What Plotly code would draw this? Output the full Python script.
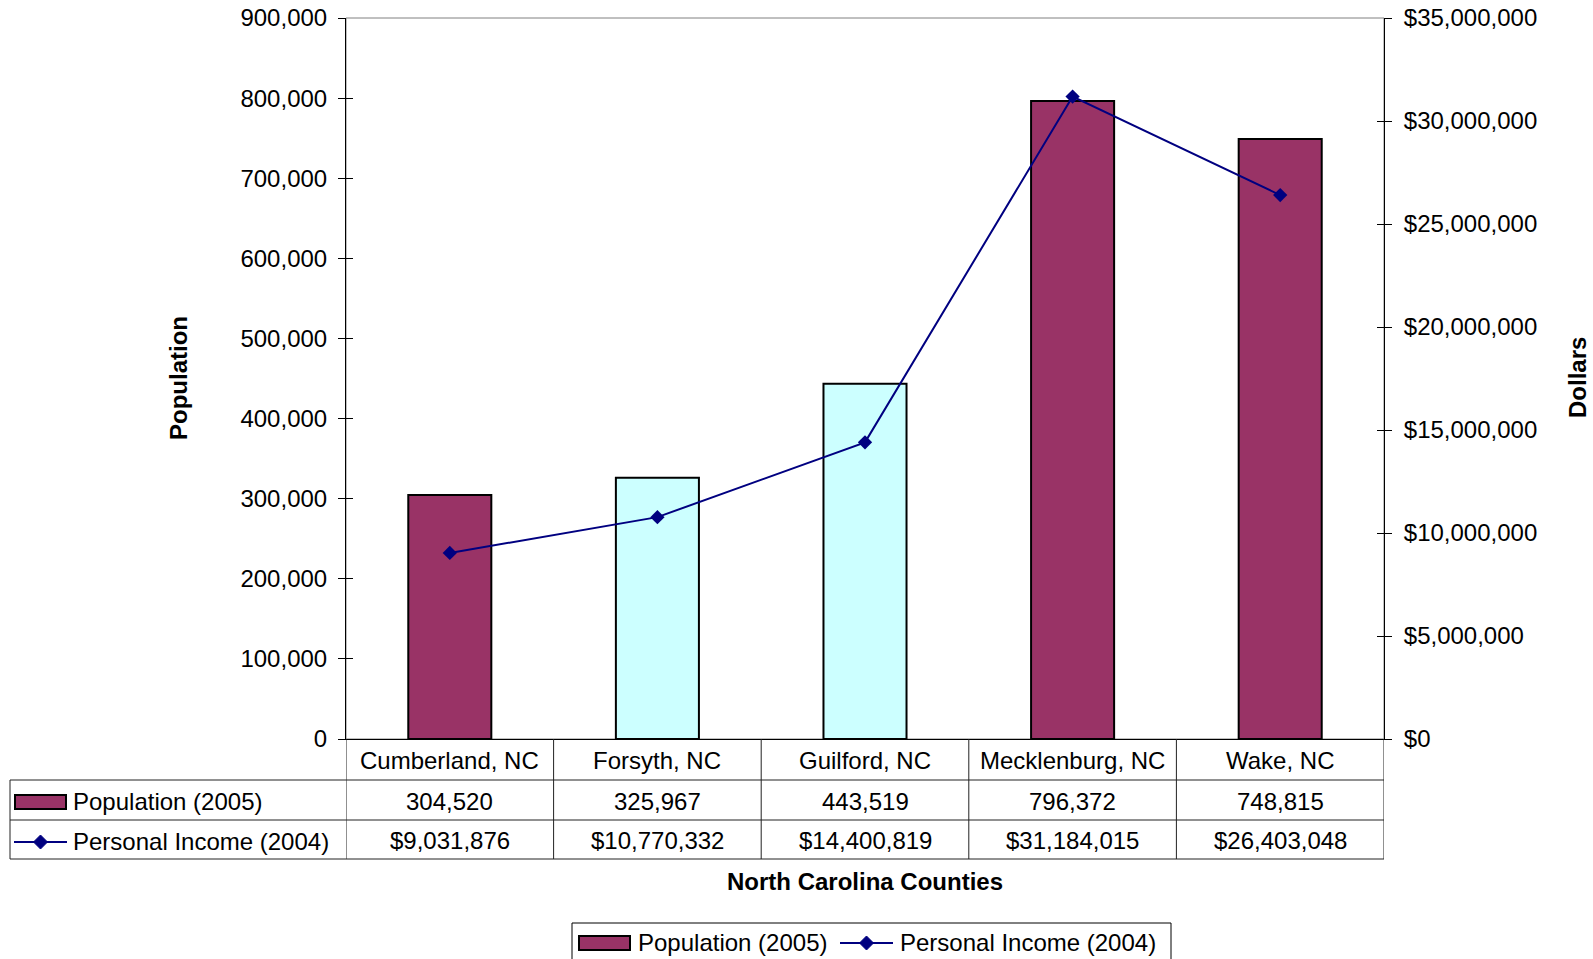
import plotly.graph_objects as go

# ---------------- data ----------------
counties = ["Cumberland, NC", "Forsyth, NC", "Guilford, NC", "Mecklenburg, NC", "Wake, NC"]
population_2005 = [304520, 325967, 443519, 796372, 748815]
income_2004 = [9031876, 10770332, 14400819, 31184015, 26403048]
pop_ticks = [0, 100000, 200000, 300000, 400000, 500000, 600000, 700000, 800000, 900000]
income_ticks = [0, 5000000, 10000000, 15000000, 20000000, 25000000, 30000000, 35000000]
series_names = ["Population (2005)", "Personal Income (2004)"]
axis_titles = {"x": "North Carolina Counties", "y": "Population", "y2": "Dollars"}

# ---------------- styles ----------------
W, H = 1593, 959
MAROON = "#993366"
CYAN = "#CCFFFF"
NAVY = "#000080"
bar_colors = [MAROON, CYAN, CYAN, MAROON, MAROON]
FONT = "Liberation Sans, Arial, sans-serif"
FS = 24

L, R, T, B = 346, 1384, 18, 739


def px(x):
    return x / W


def py(y):
    return 1 - y / H


idx = list(range(len(counties)))

fig = go.Figure()
fig.add_trace(go.Bar(
    x=idx, y=population_2005, width=0.4,
    marker=dict(color=bar_colors, line=dict(color="black", width=2)),
    name=series_names[0], showlegend=False, hoverinfo="skip",
))
fig.add_trace(go.Scatter(
    x=idx, y=income_2004, yaxis="y2", mode="lines+markers",
    line=dict(color=NAVY, width=2),
    marker=dict(symbol="diamond", size=11, color=NAVY),
    name=series_names[1], showlegend=False, hoverinfo="skip",
))
# invisible helpers for inside tick marks
fig.add_trace(go.Scatter(x=[0], y=[0], yaxis="y3", mode="markers",
                         marker=dict(opacity=0), showlegend=False, hoverinfo="skip"))
fig.add_trace(go.Scatter(x=[0], y=[0], yaxis="y4", mode="markers",
                         marker=dict(opacity=0), showlegend=False, hoverinfo="skip"))

xd = [px(L), px(R)]
yd = [py(B), py(T)]

fig.update_layout(
    width=W, height=H,
    margin=dict(l=0, r=0, t=0, b=0, autoexpand=False),
    paper_bgcolor="white", plot_bgcolor="white",
    font=dict(family=FONT, size=FS, color="black"),
    xaxis=dict(domain=xd, range=[-0.5, len(counties) - 0.5], showticklabels=False,
               ticks="", showgrid=False, zeroline=False, automargin=False,
               showline=True, linecolor="black", linewidth=1),
    yaxis=dict(domain=yd, range=[0, pop_ticks[-1]], tickvals=pop_ticks,
               ticktext=[f"{v:,}" for v in pop_ticks], automargin=False,
               ticks="outside", ticklen=7, tickcolor="black", ticklabelstandoff=6,
               showgrid=False, zeroline=False, showline=True, linecolor="black", linewidth=1),
    yaxis2=dict(overlaying="y", side="right", anchor="x", range=[0, income_ticks[-1]],
                tickvals=income_ticks, ticktext=[f"${v:,}" for v in income_ticks],
                automargin=False,
                ticks="outside", ticklen=7, tickcolor="black", ticklabelstandoff=7,
                showgrid=False, zeroline=False, showline=True, linecolor="black", linewidth=1),
    yaxis3=dict(overlaying="y", side="left", anchor="x", range=[0, pop_ticks[-1]],
                tickvals=pop_ticks, showticklabels=False, ticks="inside", ticklen=7,
                automargin=False,
                tickcolor="black", showgrid=False, zeroline=False, showline=False),
    yaxis4=dict(overlaying="y", side="right", anchor="x", range=[0, income_ticks[-1]],
                tickvals=income_ticks, showticklabels=False, ticks="inside", ticklen=7,
                automargin=False,
                tickcolor="black", showgrid=False, zeroline=False, showline=False),
)

shapes = []
ann = []
LINE = dict(color="#222222", width=1)

# plot area border (gray)
shapes.append(dict(type="rect", xref="paper", yref="paper", x0=px(L), x1=px(R),
                   y0=py(B), y1=py(T), line=dict(color="#808080", width=1), layer="below"))

# ---------------- data table ----------------
ROW_TOP, ROW1, ROW2, ROW3 = B, 780, 820, 859
TBL_LEFT = 10
for yy in (ROW1, ROW2, ROW3):
    shapes.append(dict(type="line", xref="paper", yref="paper", x0=px(TBL_LEFT), x1=px(R),
                       y0=py(yy), y1=py(yy), line=LINE))
for k in range(len(counties) + 1):
    shapes.append(dict(type="line", xref="x", yref="paper", x0=k - 0.5, x1=k - 0.5,
                       y0=py(ROW_TOP), y1=py(ROW3), line=LINE))
shapes.append(dict(type="line", xref="paper", yref="paper", x0=px(TBL_LEFT), x1=px(TBL_LEFT),
                   y0=py(ROW1), y1=py(ROW3), line=LINE))

for i, c in enumerate(counties):
    ann.append(dict(x=i, xref="x", y=py((ROW_TOP + ROW1) / 2 + 1), yref="paper", text=c,
                    showarrow=False, xanchor="center", yanchor="middle"))
    ann.append(dict(x=i, xref="x", y=py((ROW1 + ROW2) / 2 + 1), yref="paper",
                    text=f"{population_2005[i]:,}", showarrow=False,
                    xanchor="center", yanchor="middle"))
    ann.append(dict(x=i, xref="x", y=py((ROW2 + ROW3) / 2 + 1), yref="paper",
                    text=f"${income_2004[i]:,}", showarrow=False,
                    xanchor="center", yanchor="middle"))


def bar_key(x0, yc):
    shapes.append(dict(type="rect", xref="paper", yref="paper", x0=px(x0), x1=px(x0 + 51),
                       y0=py(yc + 7), y1=py(yc - 7), fillcolor=MAROON,
                       line=dict(color="black", width=2)))


def line_key(x0, yc):
    shapes.append(dict(type="line", xref="paper", yref="paper", x0=px(x0), x1=px(x0 + 53),
                       y0=py(yc), y1=py(yc), line=dict(color=NAVY, width=2)))
    cx = x0 + 26.5
    d = 7
    path = (f"M {px(cx)} {py(yc - d)} L {px(cx + d)} {py(yc)} "
            f"L {px(cx)} {py(yc + d)} L {px(cx - d)} {py(yc)} Z")
    shapes.append(dict(type="path", xref="paper", yref="paper", path=path,
                       fillcolor=NAVY, line=dict(color=NAVY, width=1)))


bar_key(15, 802)
ann.append(dict(x=px(71), y=py(801), xref="paper", yref="paper", text=series_names[0],
                showarrow=False, xanchor="left", yanchor="middle"))
line_key(14, 842)
ann.append(dict(x=px(71), y=py(841), xref="paper", yref="paper", text=series_names[1],
                showarrow=False, xanchor="left", yanchor="middle"))

# ---------------- axis titles ----------------
ann.append(dict(x=px((L + R) / 2), y=py(881), xref="paper", yref="paper",
                text=f"<b>{axis_titles['x']}</b>", showarrow=False,
                xanchor="center", yanchor="middle"))
ann.append(dict(x=px(179), y=py(378), xref="paper", yref="paper",
                text=f"<b>{axis_titles['y']}</b>", showarrow=False, textangle=-90,
                xanchor="center", yanchor="middle"))
ann.append(dict(x=px(1578), y=py(378), xref="paper", yref="paper",
                text=f"<b>{axis_titles['y2']}</b>", showarrow=False, textangle=-90,
                xanchor="center", yanchor="middle"))

# ---------------- bottom legend ----------------
shapes.append(dict(type="rect", xref="paper", yref="paper", x0=px(572), x1=px(1171),
                   y0=py(970), y1=py(923), line=dict(color="black", width=1)))
bar_key(579, 943)
ann.append(dict(x=px(636), y=py(942), xref="paper", yref="paper", text=series_names[0],
                showarrow=False, xanchor="left", yanchor="middle"))
line_key(840, 943)
ann.append(dict(x=px(898), y=py(942), xref="paper", yref="paper", text=series_names[1],
                showarrow=False, xanchor="left", yanchor="middle"))

fig.update_layout(shapes=shapes, annotations=ann)
fig.write_html("out.html", config={"displayModeBar": False},
               post_script="document.body.style.margin='0px';document.body.style.overflow='hidden';")
